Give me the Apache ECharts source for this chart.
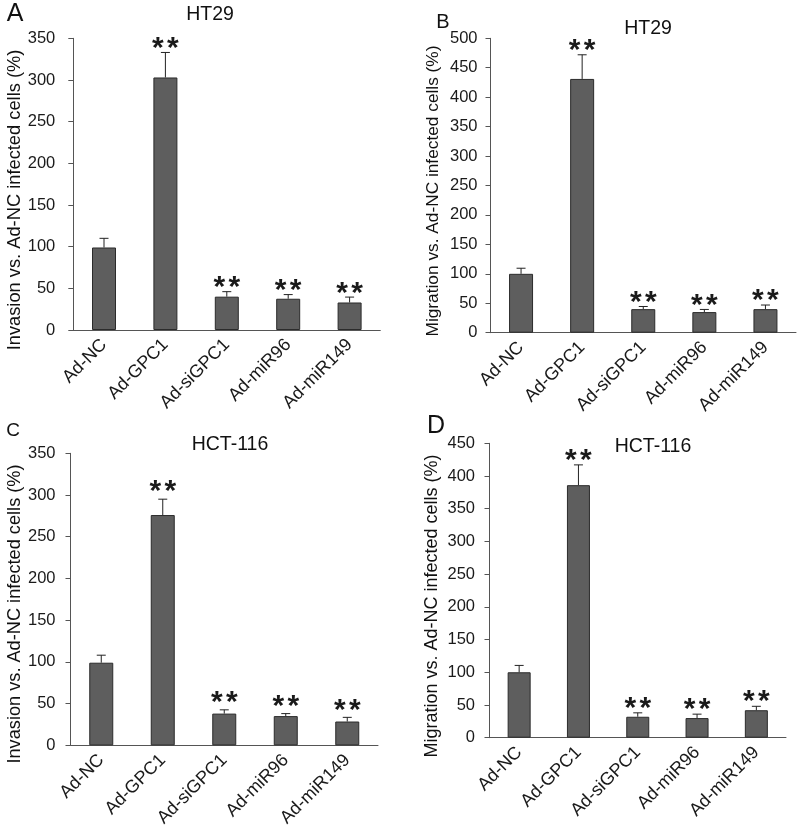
<!DOCTYPE html>
<html>
<head>
<meta charset="utf-8">
<script src="https://cdn.jsdelivr.net/npm/echarts@6/dist/echarts.min.js"></script>
<style>
html,body{margin:0;padding:0;background:#fff;}
#chart{width:800px;height:840px;}
</style>
</head>
<body>
<div id="chart"></div>
<script>
// ---- data ----
var categories = ['Ad-NC', 'Ad-GPC1', 'Ad-siGPC1', 'Ad-miR96', 'Ad-miR149'];
var significant = [0, 1, 1, 1, 1];

var invasionHT29 = [99, 303, 40, 37.5, 33];
var invasionHT29Err = [11, 30, 6, 5, 6.5];

var migrationHT29 = [100, 431, 40, 35, 40];
var migrationHT29Err = [9.5, 41, 4.5, 4.5, 7];

var invasionHCT116 = [99, 276, 38, 35, 28.5];
var invasionHCT116Err = [9, 19, 4.5, 3, 5];

var migrationHCT116 = [100, 386, 32, 30, 42];
var migrationHCT116Err = [10.5, 31, 6, 6, 6];

var yTicksA = {max: 350, interval: 50};
var yTicksB = {max: 500, interval: 50};
var yTicksC = {max: 350, interval: 50};
var yTicksD = {max: 450, interval: 50};

// ---- layout / style ----
var FONT = '"Liberation Sans", Arial, sans-serif';
var panels = [
  {vals: invasionHT29, errs: invasionHT29Err, ticks: yTicksA, starGap: 10.5,
   grid: {left: 73.3, top: 38.3, width: 307, height: 291.7}, barWidth: 24, labelMargin: 18},
  {vals: migrationHT29, errs: migrationHT29Err, ticks: yTicksB, starGap: 11,
   grid: {left: 490.5, top: 38.3, width: 305.5, height: 294.4}, barWidth: 24, labelMargin: 13},
  {vals: invasionHCT116, errs: invasionHCT116Err, ticks: yTicksC, starGap: 14,
   grid: {left: 70.5, top: 453.3, width: 307.5, height: 292}, barWidth: 24, labelMargin: 15},
  {vals: migrationHCT116, errs: migrationHCT116Err, ticks: yTicksD, starGap: 11.5,
   grid: {left: 489.5, top: 443.3, width: 296.5, height: 294.4}, barWidth: 23, labelMargin: 14.5}
];

var grids = [], xAxes = [], yAxes = [], series = [];
panels.forEach(function (p, i) {
  grids.push(p.grid);
  xAxes.push({
    type: 'category', gridIndex: i, data: categories,
    axisLine: {show: true, lineStyle: {color: '#555', width: 1}},
    axisTick: {show: false},
    axisLabel: {rotate: 45, interval: 0, fontSize: 18, color: '#1a1a1a', fontFamily: FONT, margin: 12}
  });
  yAxes.push({
    type: 'value', gridIndex: i, min: 0, max: p.ticks.max, interval: p.ticks.interval,
    axisLine: {show: true, lineStyle: {color: '#555', width: 1}},
    axisTick: {show: true, inside: false, length: 5, lineStyle: {color: '#555'}},
    splitLine: {show: false},
    axisLabel: {fontSize: 16.5, color: '#1a1a1a', fontFamily: FONT, margin: p.labelMargin}
  });
  series.push({
    type: 'bar', xAxisIndex: i, yAxisIndex: i, data: p.vals, barWidth: p.barWidth,
    itemStyle: {color: '#5e5e5e', borderColor: '#2b2b2b', borderWidth: 1},
    animation: false
  });
  var gap = p.starGap;
  series.push({
    type: 'custom', xAxisIndex: i, yAxisIndex: i, z: 5, animation: false,
    data: categories.map(function (c, k) { return [k, p.vals[k], p.errs[k], significant[k]]; }),
    renderItem: function (params, api) {
      var x = api.value(0), v = api.value(1), e = api.value(2), s = api.value(3);
      var base = api.coord([x, v]);
      var top = api.coord([x, v + e]);
      var children = [
        {type: 'line', shape: {x1: base[0], y1: base[1], x2: top[0], y2: top[1]},
         style: {stroke: '#222', lineWidth: 1}},
        {type: 'line', shape: {x1: top[0] - 4.5, y1: top[1], x2: top[0] + 4.5, y2: top[1]},
         style: {stroke: '#222', lineWidth: 1}}
      ];
      if (s) {
        [-7.5, 7.5].forEach(function (dx) {
          children.push({type: 'text', x: top[0] + dx, y: top[1] - gap + 7,
            style: {text: '*', fontSize: 30, fontWeight: 'bold', fontFamily: FONT, fill: '#1a1a1a',
                    align: 'center', verticalAlign: 'middle'}});
        });
      }
      return {type: 'group', children: children};
    }
  });
});

function txt(x, y, t, size, rot) {
  return {type: 'text', x: x, y: y, rotation: rot || 0,
          style: {text: t, fontSize: size, fontFamily: FONT, fill: '#111',
                  align: 'center', verticalAlign: 'middle'}};
}
var graphics = [
  txt(15, 14, 'A', 25), txt(443, 22, 'B', 20), txt(13, 431, 'C', 19), txt(436, 426, 'D', 25),
  txt(210, 15, 'HT29', 19.5), txt(648, 29, 'HT29', 19.5),
  txt(230, 445, 'HCT-116', 19.5), txt(653, 447, 'HCT-116', 19.5),
  txt(15, 200, 'Invasion vs. Ad-NC infected cells (%)', 18.3, Math.PI / 2),
  txt(433, 191, 'Migration vs. Ad-NC infected cells (%)', 17.3, Math.PI / 2),
  txt(15, 614, 'Invasion vs. Ad-NC infected cells (%)', 18.2, Math.PI / 2),
  txt(432, 606, 'Migration vs. Ad-NC infected cells (%)', 18, Math.PI / 2)
];

var chart = echarts.init(document.getElementById('chart'), null, {renderer: 'canvas'});
chart.setOption({
  backgroundColor: '#fff',
  animation: false,
  grid: grids,
  xAxis: xAxes,
  yAxis: yAxes,
  series: series,
  graphic: graphics
});
</script>
</body>
</html>
